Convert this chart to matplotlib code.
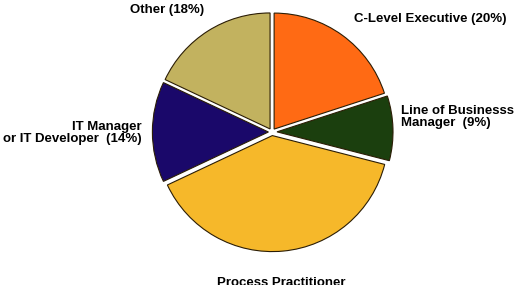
import matplotlib.pyplot as plt
from matplotlib import rc

rc('font', **{'family': 'sans-serif', 'sans-serif': ['Liberation Sans'], 'weight': 'bold'})

# data
labels = ['C-Level Executive (20%)', 'Line of Businesss\nManager  (9%)',
          'Process Practitioner\n(39%)', 'IT Manager\nor IT Developer  (14%)',
          'Other (18%)']
shares = [20, 9, 39, 14, 18]
colors = ['#FF6A14', '#1B3F0E', '#F6B82A', '#1A086A', '#C2B25F']

W, H = 516, 285
fig = plt.figure(figsize=(W/100., H/100.), dpi=100)
ax = fig.add_axes([0, 0, 1, 1])

cx, cy, r = 272, 153, 116
# explode is in data units here (axes are in pixels)
wedges, _ = ax.pie(shares, colors=colors, startangle=90, counterclock=False,
                   center=(cx, cy), radius=r, explode=[3.6, 5.0, 3.6, 3.6, 3.6],
                   wedgeprops=dict(edgecolor='#2b1d05', linewidth=0.8))
ax.set_xlim(0, W)
ax.set_ylim(0, H)
ax.set_aspect('equal')
ax.axis('off')

# label placement (pixel coords, y measured from bottom)
kw = dict(fontsize=9.5, fontweight='bold', color='black', linespacing=1.1)
ax.text(354, H-19, labels[0], ha='left', va='center', **kw)
ax.text(401, H-117, labels[1], ha='left', va='center', **kw)
ax.text(281, H-277, labels[2], ha='center', va='top', **kw)
ax.text(142, H-133, labels[3], ha='right', va='center', **kw)
ax.text(167, H-10, labels[4], ha='center', va='center', **kw)

fig.savefig('out.png', dpi=100)
